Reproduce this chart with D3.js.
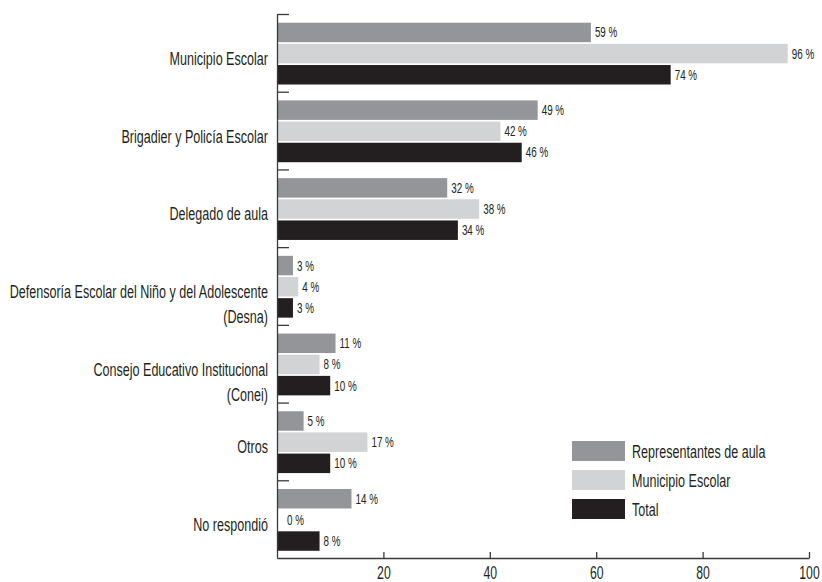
<!DOCTYPE html>
<html>
<head>
<meta charset="utf-8">
<script src="https://cdn.jsdelivr.net/npm/d3@7"></script>
<style>
  body { margin: 0; background: #fff; }
  svg text { font-family: "Liberation Sans", Arial, sans-serif; fill: #231f20; }
</style>
</head>
<body>
<svg id="chart" width="822" height="582"></svg>
<script>
// data
var categories = [
  "Municipio Escolar",
  "Brigadier y Policía Escolar",
  "Delegado de aula",
  "Defensoría Escolar del Niño y del Adolescente\n(Desna)",
  "Consejo Educativo Institucional\n(Conei)",
  "Otros",
  "No respondió"
]
var series = ["Representantes de aula", "Municipio Escolar", "Total"]
var representantes = [59, 49, 32, 3, 11, 5, 14]
var municipio = [96, 42, 38, 4, 8, 17, 0]
var total = [74, 46, 34, 3, 10, 10, 8]
var xTicks = [20, 40, 60, 80, 100]
var colors = ["#939598", "#d1d3d4", "#231f20"]

var values = [representantes, municipio, total]

var dimensions = {
    width: 822,
    height: 582,
    margin: { top: 14, bottom: 24, right: 13, left: 277 }
}
dimensions.boundedWidth = dimensions.width - dimensions.margin.left - dimensions.margin.right
dimensions.boundedHeight = dimensions.height - dimensions.margin.top - dimensions.margin.bottom

var squeeze = 0.68  // condensed look of the original font

var svg = d3.select("#chart")
var g = svg.append("g")
        .attr("transform", "translate(" + dimensions.margin.left + "," + dimensions.margin.top + ")")

var xScale = d3.scaleLinear()
        .domain([0, 100])
        .range([0, dimensions.boundedWidth])

var yScale = d3.scaleBand()
        .domain(categories)
        .range([0, dimensions.boundedHeight])
        .padding(0)

var subScale = d3.scaleBand()
        .domain(series)
        .range([8.7, 70.5])
        .paddingInner(0.08)

// helper for horizontally squeezed text
function squeezedText(sel, x, y, txt, size, anchor) {
    return sel.append("text")
        .attr("transform", "translate(" + x + "," + y + ") scale(" + squeeze + ",1)")
        .attr("text-anchor", anchor || "start")
        .style("font-size", size + "px")
        .text(txt)
}

// bars
var groups = g.selectAll(".group")
        .data(categories)
        .enter()
        .append("g")
        .attr("transform", d => "translate(0," + yScale(d) + ")")

groups.each(function(cat, ci) {
    var grp = d3.select(this)
    series.forEach(function(s, si) {
        var v = values[si][ci]
        grp.append("rect")
            .attr("x", xScale(0))
            .attr("y", subScale(s))
            .attr("width", xScale(v) - xScale(0))
            .attr("height", subScale.bandwidth())
            .attr("fill", colors[si])
        var pad = v === 0 ? 10 : 4
        squeezedText(grp, xScale(v) + pad, subScale(s) + subScale.bandwidth() / 2 + 5, v + " %", 14.5)
    })
})

// category labels
categories.forEach(function(c) {
    var lines = c.split("\n")
    var cy = yScale(c) + yScale.bandwidth() / 2 + 12
    lines.forEach(function(line, i) {
        squeezedText(g, -9, cy + i * 25, line, 18.5, "end")
    })
})

// y axis with ticks at the group boundaries
var yIndex = d3.scaleLinear()
        .domain([0, categories.length])
        .range([0, dimensions.boundedHeight])

g.append("g")
        .call(d3.axisRight(yIndex)
            .tickValues(d3.range(categories.length))
            .tickSize(12)
            .tickSizeOuter(0)
            .tickFormat(""))
        .call(a => a.selectAll("line,path").attr("stroke", "#3a3a3a").attr("stroke-width", 1.3))

// x axis
g.append("g")
        .attr("transform", "translate(0," + dimensions.boundedHeight + ")")
        .call(d3.axisBottom(xScale)
            .tickValues(xTicks)
            .tickSize(-6)
            .tickSizeOuter(0)
            .tickPadding(8))
        .call(a => a.selectAll("line,path").attr("stroke", "#3a3a3a").attr("stroke-width", 1.3))
        .call(a => a.selectAll("text")
            .attr("transform", "scale(" + squeeze + ",1)")
            .style("font-size", "18px")
            .style("font-family", "'Liberation Sans', sans-serif")
            .attr("fill", "#231f20"))

// legend
var legend = svg.append("g")
        .attr("transform", "translate(572,441)")

series.forEach(function(s, i) {
    legend.append("rect")
        .attr("x", 0)
        .attr("y", i * 29)
        .attr("width", 53)
        .attr("height", 20)
        .attr("fill", colors[i])
    squeezedText(legend, 60, i * 29 + 16.5, s, 18.5)
})
</script>
</body>
</html>
